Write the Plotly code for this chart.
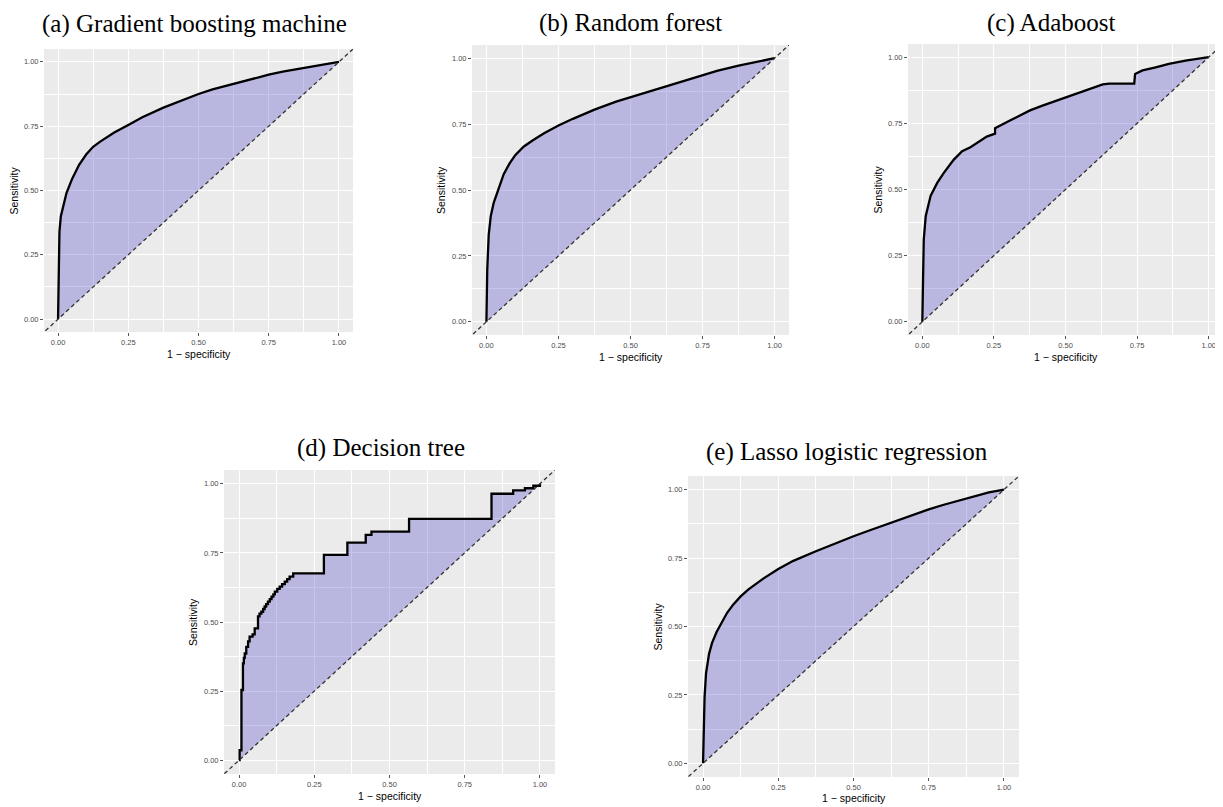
import plotly.graph_objects as go

# ---------------- data ----------------
titles = ["(a) Gradient boosting machine", "(b) Random forest", "(c) Adaboost",
          "(d) Decision tree", "(e) Lasso logistic regression"]

gbm_fpr = [0, 0.002, 0.005, 0.01, 0.02, 0.03, 0.05, 0.075, 0.1, 0.125, 0.15, 0.2, 0.25,
           0.3, 0.375, 0.45, 0.5, 0.55, 0.625, 0.7, 0.75, 0.8, 0.875, 0.95, 1.0]
gbm_tpr = [0, 0.2, 0.34, 0.40, 0.45, 0.49, 0.545, 0.60, 0.64, 0.67, 0.69, 0.725, 0.755,
           0.785, 0.822, 0.855, 0.875, 0.893, 0.915, 0.937, 0.95, 0.962, 0.977, 0.99, 1.0]

rf_fpr = [0, 0.003, 0.008, 0.015, 0.025, 0.04, 0.06, 0.08, 0.1, 0.13, 0.16, 0.2, 0.25,
          0.3, 0.375, 0.45, 0.5, 0.55, 0.625, 0.7, 0.75, 0.8, 0.875, 0.95, 1.0]
rf_tpr = [0, 0.2, 0.33, 0.40, 0.45, 0.50, 0.56, 0.60, 0.632, 0.665, 0.688, 0.715, 0.745,
          0.77, 0.805, 0.835, 0.852, 0.868, 0.893, 0.92, 0.937, 0.952, 0.972, 0.99, 1.0]

ada_fpr = [0, 0.002, 0.005, 0.012, 0.029, 0.052, 0.075, 0.11, 0.139, 0.168, 0.225, 0.254,
           0.254, 0.306, 0.376, 0.422, 0.503, 0.572, 0.63, 0.653, 0.74, 0.743, 0.769,
           0.815, 0.861, 0.919, 1.0]
ada_tpr = [0, 0.2, 0.31, 0.40, 0.476, 0.525, 0.563, 0.613, 0.645, 0.66, 0.70, 0.711,
           0.732, 0.761, 0.799, 0.818, 0.849, 0.877, 0.897, 0.90, 0.90, 0.937, 0.95,
           0.962, 0.975, 0.987, 1.0]

dt_fpr = [0, 0.002, 0.008, 0.013, 0.016, 0.019, 0.024, 0.03, 0.035, 0.045, 0.052, 0.063,
          0.068, 0.074, 0.08, 0.085, 0.09, 0.096, 0.102, 0.108, 0.114, 0.119, 0.127,
          0.135, 0.143, 0.152, 0.16, 0.168, 0.18, 0.282, 0.36, 0.421, 0.44, 0.565,
          0.839, 0.911, 0.95, 0.978, 1.0]
dt_tpr = [0, 0.036, 0.254, 0.35, 0.37, 0.386, 0.41, 0.43, 0.447, 0.455, 0.477, 0.52,
          0.53, 0.537, 0.547, 0.556, 0.565, 0.574, 0.583, 0.592, 0.60, 0.61, 0.62,
          0.628, 0.637, 0.646, 0.655, 0.664, 0.676, 0.743, 0.787, 0.815, 0.827, 0.873,
          0.964, 0.976, 0.984, 0.993, 1.0]

lasso_fpr = [0, 0.002, 0.005, 0.01, 0.02, 0.03, 0.045, 0.06, 0.08, 0.1, 0.125, 0.15,
             0.175, 0.2, 0.25, 0.3, 0.375, 0.44, 0.5, 0.55, 0.625, 0.7, 0.75, 0.8,
             0.875, 0.95, 1.0]
lasso_tpr = [0, 0.15, 0.24, 0.33, 0.40, 0.44, 0.48, 0.51, 0.55, 0.58, 0.61, 0.635,
             0.655, 0.675, 0.71, 0.74, 0.775, 0.805, 0.83, 0.85, 0.88, 0.91, 0.928,
             0.945, 0.968, 0.99, 1.0]

curves = [(gbm_fpr, gbm_tpr, "linear"), (rf_fpr, rf_tpr, "linear"),
          (ada_fpr, ada_tpr, "linear"), (dt_fpr, dt_tpr, "hv"),
          (lasso_fpr, lasso_tpr, "linear")]

tick_vals = [0, 0.25, 0.5, 0.75, 1.0]
tick_text = ["0.00", "0.25", "0.50", "0.75", "1.00"]
chance = [0, 1]
chance_ext = [-0.1, 1.1]

# ---------------- layout geometry (pixels in the page) ----------------
OFF = 8                      # page body margin
W, H = 1223 - OFF, 807 - OFF
# (left, right, top, bottom) of each grey panel in page pixels
panels = [(44, 353, 49, 332), (472, 789, 45, 335), (908, 1223, 44, 335),
          (224, 555, 470, 774), (688, 1019, 476, 777)]
title_pos = [(195, 24), (630, 23), (1051, 23), (381, 448), (847, 452)]
xtitle_shift = [-14, -14, -14, -14, -13]


def px(x):
    return (x - OFF) / W


def py(y):
    return 1 - (y - OFF) / H


fig = go.Figure()
layout = dict(width=W, height=H, margin=dict(l=0, r=0, t=0, b=0),
              paper_bgcolor="white", plot_bgcolor="#ebebeb", showlegend=False)
annotations = []

fill_col = "rgba(68,58,198,0.3)"
for i, ((fx, fy, shape), (l, r, t, b)) in enumerate(zip(curves, panels)):
    n = i + 1
    xa = "x" if n == 1 else f"x{n}"
    ya = "y" if n == 1 else f"y{n}"
    fig.add_trace(go.Scatter(x=chance, y=chance, mode="lines", line=dict(width=0),
                             xaxis=xa, yaxis=ya, hoverinfo="skip"))
    fig.add_trace(go.Scatter(x=fx, y=fy, mode="lines", fill="tonexty",
                             fillcolor=fill_col,
                             line=dict(color="black", width=2.3, shape=shape),
                             xaxis=xa, yaxis=ya))
    fig.add_trace(go.Scatter(x=chance_ext, y=chance_ext, mode="lines",
                             line=dict(color="#333333", width=1.3, dash="4px,3px"),
                             xaxis=xa, yaxis=ya, hoverinfo="skip"))
    common = dict(range=[-0.05, 1.05], tickvals=tick_vals, ticktext=tick_text,
                  showgrid=True, gridcolor="white", gridwidth=1.1, zeroline=False,
                  ticks="outside", ticklen=3, tickwidth=1, tickcolor="#555555",
                  tickfont=dict(family="Liberation Sans, Arial", size=7.5, color="#4d4d4d"),
                  minor=dict(tickvals=[0.125, 0.375, 0.625, 0.875], showgrid=True,
                             gridcolor="white", gridwidth=0.5, ticks=""),
                  showline=False, fixedrange=True)
    layout["xaxis" if n == 1 else f"xaxis{n}"] = dict(
        domain=[px(l), min(px(r), 1)], anchor=ya, **common)
    layout["yaxis" if n == 1 else f"yaxis{n}"] = dict(
        domain=[py(b), py(t)], anchor=xa, **common)
    tx, ty = title_pos[i]
    annotations.append(dict(text=titles[i], x=px(tx), y=py(ty), xref="paper",
                            yref="paper", xanchor="center", yanchor="middle",
                            showarrow=False,
                            font=dict(family="Liberation Serif, Times New Roman",
                                      size=25, color="black")))
    annotations.append(dict(text="1 \u2212 specificity", x=0.5, y=0,
                            xref=f"{xa} domain", yref=f"{ya} domain",
                            xanchor="center", yanchor="top", yshift=xtitle_shift[i],
                            showarrow=False,
                            font=dict(family="Liberation Sans, Arial", size=10.5,
                                      color="black")))
    annotations.append(dict(text="Sensitivity", x=0, y=0.5,
                            xref=f"{xa} domain", yref=f"{ya} domain",
                            xanchor="center", yanchor="middle", xshift=-31,
                            textangle=-90, showarrow=False,
                            font=dict(family="Liberation Sans, Arial", size=10.5,
                                      color="black")))

layout["annotations"] = annotations
fig.update_layout(**layout)
fig.write_html("out.html")
